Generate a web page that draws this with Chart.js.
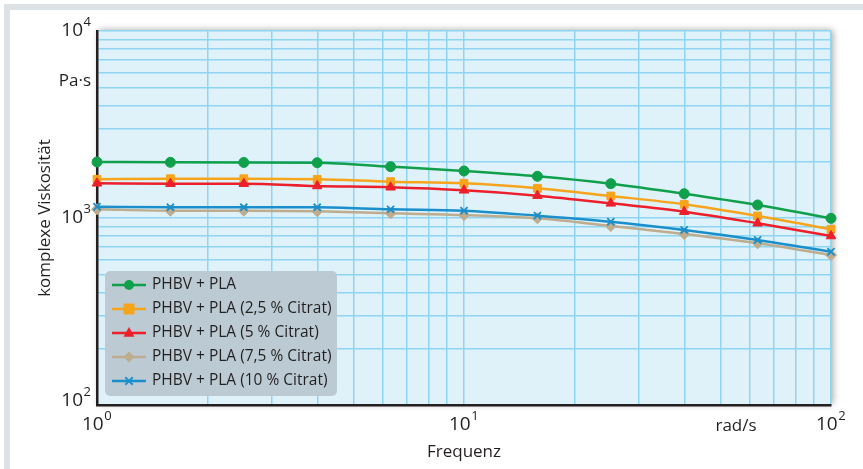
<!DOCTYPE html>
<html>

<head>
  <title>komplexe Viskosität</title>
  <style>
    body { margin: 0; background: #fff; }
    #frame { position: absolute; left: 4px; top: 4px; width: 859px; height: 465px;
      border-top: 6px solid #dde2e7; border-left: 6px solid #dde2e7; box-sizing: border-box; }
    #wrap { position: absolute; left: 0; top: 0; width: 863px; height: 469px; }
  </style>
</head>

<body>
  <div id="frame"></div>
  <div id="wrap"><canvas id="chart"></canvas></div>
  <script src="https://cdn.jsdelivr.net/npm/chart.js"></script>
  <script>
    // Frequenz in rad/s
    const frequencies = [1, 1.585, 2.512, 3.981, 6.31, 10, 15.85, 25.12, 39.81, 63.1, 100];
    // komplexe Viskosität in Pa·s
    const phbvPla = [1993, 1985, 1981, 1975, 1881, 1784, 1671, 1526, 1349, 1174, 996];
    const citrat25 = [1610, 1622, 1622, 1610, 1564, 1533, 1442, 1311, 1184, 1025, 870];
    const citrat5 = [1533, 1526, 1526, 1483, 1460, 1406, 1317, 1198, 1081, 937, 801];
    const citrat75 = [1113, 1094, 1094, 1086, 1060, 1037, 996, 906, 821, 732, 634];
    const citrat10 = [1149, 1141, 1141, 1141, 1113, 1094, 1029, 955, 863, 763, 660];

    const seriesNames = ['PHBV + PLA', 'PHBV + PLA (2,5 % Citrat)', 'PHBV + PLA (5 % Citrat)',
      'PHBV + PLA (7,5 % Citrat)', 'PHBV + PLA (10 % Citrat)'];
    const xTickLabels = [[1, '0'], [10, '1'], [100, '2']];
    const yTickLabels = [[10000, '4'], [1000, '3'], [100, '2']];
    const xGrid = [1, 2, 3, 4, 5, 6, 7, 8, 9, 10, 20, 30, 40, 50, 60, 70, 80, 90, 100];
    const yGrid = [100, 200, 300, 400, 500, 600, 700, 800, 900, 1000, 2000, 3000, 4000, 5000, 6000, 7000, 8000, 9000, 10000];

    const FONT = '"Open Sans", sans-serif';
    const styles = [
      { color: '#10a04b', point: 'circle', r: 5 },
      { color: '#f7a41d', point: 'rect', r: 5.5 },
      { color: '#ec1f2b', point: 'triangle', r: 5.5 },
      { color: '#bdac8e', point: 'rectRot', r: 5.5 },
      { color: '#1b8fcb', point: 'crossRot', r: 5 }
    ];
    const values = [phbvPla, citrat25, citrat5, citrat75, citrat10];

    function drawMarker(ctx, type, x, y, r, color) {
      ctx.save();
      ctx.fillStyle = color;
      ctx.strokeStyle = color;
      ctx.lineWidth = 1.8;
      ctx.beginPath();
      if (type === 'circle') {
        ctx.arc(x, y, r, 0, Math.PI * 2);
        ctx.fill();
      } else if (type === 'rect') {
        ctx.fillRect(x - r, y - r, 2 * r, 2 * r);
      } else if (type === 'triangle') {
        ctx.moveTo(x, y - r * 1.1);
        ctx.lineTo(x + r, y + r * 0.7);
        ctx.lineTo(x - r, y + r * 0.7);
        ctx.closePath();
        ctx.fill();
      } else if (type === 'rectRot') {
        ctx.moveTo(x, y - r);
        ctx.lineTo(x + r, y);
        ctx.lineTo(x, y + r);
        ctx.lineTo(x - r, y);
        ctx.closePath();
        ctx.fill();
      } else {
        ctx.moveTo(x - r * 0.75, y - r * 0.75);
        ctx.lineTo(x + r * 0.75, y + r * 0.75);
        ctx.moveTo(x + r * 0.75, y - r * 0.75);
        ctx.lineTo(x - r * 0.75, y + r * 0.75);
        ctx.stroke();
      }
      ctx.restore();
    }

    // "10" with a raised exponent; anchor is the centre or the right end
    function powerLabel(ctx, exp, x, y, align) {
      ctx.textBaseline = 'middle';
      ctx.font = '13px ' + FONT;
      const wExp = ctx.measureText(exp).width;
      ctx.font = '19px ' + FONT;
      const wBase = ctx.measureText('10').width;
      const right = align === 'right' ? x : x + (wBase + wExp) / 2;
      ctx.textAlign = 'right';
      ctx.fillText('10', right - wExp - 0.5, y);
      ctx.font = '13px ' + FONT;
      ctx.fillText(exp, right, y - 9);
    }

    const plotBackground = {
      id: 'plotBackground',
      beforeDraw(chart) {
        const { ctx, chartArea: a } = chart;
        ctx.save();
        ctx.shadowColor = 'rgba(0,0,0,0.35)';
        ctx.shadowBlur = 7;
        ctx.shadowOffsetX = 2;
        ctx.shadowOffsetY = -1;
        ctx.fillStyle = '#dff2fa';
        ctx.fillRect(a.left, a.top, a.right - a.left, a.bottom - a.top);
        ctx.restore();
      }
    };

    const labels = {
      id: 'labels',
      afterDraw(chart) {
        const { ctx, chartArea: a } = chart;
        const xs = chart.scales.x, ys = chart.scales.y;
        ctx.save();
        ctx.fillStyle = '#231f20';
        xTickLabels.forEach(([v, e]) => powerLabel(ctx, e, xs.getPixelForValue(v), 425, 'center'));
        yTickLabels.forEach(([v, e]) => powerLabel(ctx, e, 91, ys.getPixelForValue(v) - (v === 100 ? 4 : 0), 'right'));
        ctx.font = '17px ' + FONT;
        ctx.textBaseline = 'middle';
        ctx.textAlign = 'right';
        ctx.fillText('Pa·s', 91, 81);
        ctx.textAlign = 'center';
        ctx.fillText('rad/s', 736, 426);
        ctx.fillText('Frequenz', (a.left + a.right) / 2, 452);
        ctx.save();
        ctx.translate(45, (a.top + a.bottom) / 2);
        ctx.rotate(-Math.PI / 2);
        ctx.fillText('komplexe Viskosität', 0, 0);
        ctx.restore();

        // legend
        const bx = 105, by = 271, bw = 232, bh = 125;
        ctx.fillStyle = '#bccbd3';
        ctx.beginPath();
        ctx.roundRect(bx, by, bw, bh, 5);
        ctx.fill();
        ctx.font = '15.5px ' + FONT;
        ctx.textAlign = 'left';
        seriesNames.forEach((name, i) => {
          const y = 285 + i * 24;
          const s = styles[i];
          ctx.strokeStyle = s.color;
          ctx.lineWidth = 2.5;
          ctx.beginPath();
          ctx.moveTo(112, y);
          ctx.lineTo(146, y);
          ctx.stroke();
          drawMarker(ctx, s.point, 129, y, s.r, s.color);
          ctx.fillStyle = '#231f20';
          ctx.fillText(name, 152, y);
        });
        ctx.restore();
      }
    };

    const datasets = seriesNames.map((name, i) => ({
      label: name,
      data: frequencies.map((f, j) => ({ x: f, y: values[i][j] })),
      borderColor: styles[i].color,
      backgroundColor: styles[i].color,
      borderWidth: 2.5,
      pointStyle: styles[i].point,
      pointRadius: styles[i].r,
      pointBorderWidth: styles[i].point === 'crossRot' ? 1.8 : 1,
      cubicInterpolationMode: 'monotone',
      clip: false
    }));
    // draw the green series on top like the original
    datasets.reverse();

    new Chart(document.getElementById('chart').getContext('2d'), {
      type: 'line',
      data: { datasets },
      plugins: [plotBackground, labels],
      options: {
        responsive: true,
        maintainAspectRatio: false,
        animation: false,
        layout: { padding: { left: 97, top: 31, right: 32, bottom: 64 } },
        plugins: { legend: { display: false }, tooltip: { enabled: false } },
        scales: {
          x: {
            type: 'logarithmic', min: 1, max: 100,
            afterBuildTicks: (s) => { s.ticks = xGrid.map(v => ({ value: v })); },
            ticks: { display: false },
            grid: { color: '#8dd5f2', lineWidth: 1.5, drawTicks: false },
            border: { color: '#231f20', width: 2.5 }
          },
          y: {
            type: 'logarithmic', min: 100, max: 10000,
            afterBuildTicks: (s) => { s.ticks = yGrid.map(v => ({ value: v })); },
            ticks: { display: false },
            grid: { color: '#8dd5f2', lineWidth: 1.5, drawTicks: false },
            border: { color: '#231f20', width: 2.5 }
          }
        }
      }
    });
  </script>
</body>

</html>
